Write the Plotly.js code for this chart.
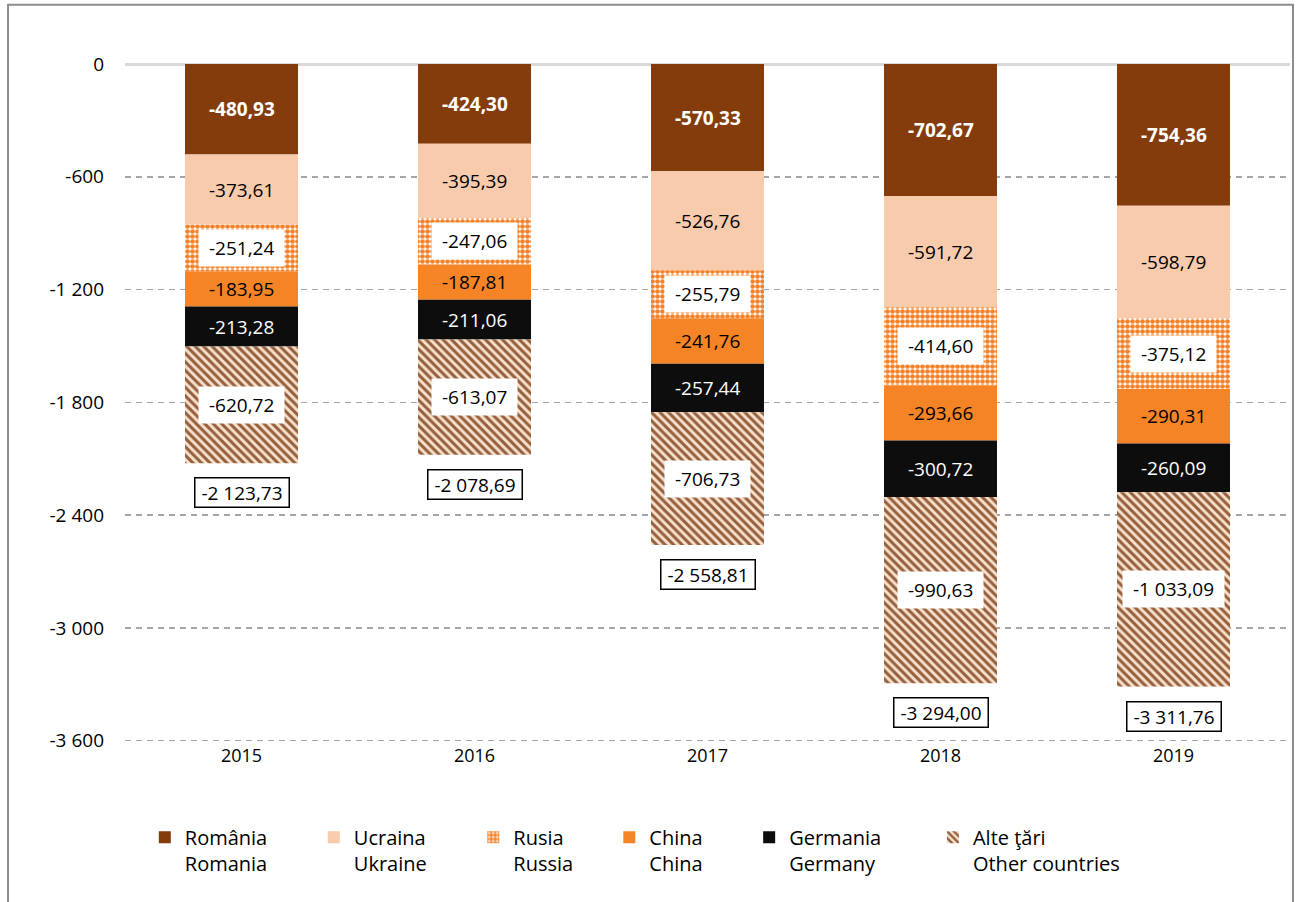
<!DOCTYPE html>
<html>
<head>
<meta charset="utf-8">
<script src="https://cdn.plot.ly/plotly-3.0.1.min.js"></script>
<style>html,body{margin:0;padding:0;background:#fff;}#chart{width:1300px;height:902px;}</style>
</head>
<body>
<div id="chart"></div>
<script>
const years = ['2015', '2016', '2017', '2018', '2019'];
const romania = [-480.93, -424.30, -570.33, -702.67, -754.36];
const ucraina = [-373.61, -395.39, -526.76, -591.72, -598.79];
const rusia = [-251.24, -247.06, -255.79, -414.60, -375.12];
const china = [-183.95, -187.81, -241.76, -293.66, -290.31];
const germania = [-213.28, -211.06, -257.44, -300.72, -260.09];
const alte = [-620.72, -613.07, -706.73, -990.63, -1033.09];
const totals = [-2123.73, -2078.69, -2558.81, -3294.00, -3311.76];
const namesRo = ['România', 'Ucraina', 'Rusia', 'China', 'Germania', 'Alte ţări'];
const namesEn = ['Romania', 'Ukraine', 'Russia', 'China', 'Germany', 'Other countries'];
const tickVals = [0, -600, -1200, -1800, -2400, -3000, -3600];
const tickText = ['0', '-600', '-1 200', '-1 800', '-2 400', '-3 000', '-3 600'];

const FONT = 'Open Sans, Noto Sans, sans-serif';

function fmt(v) {
  const neg = v < 0;
  const s = Math.abs(v).toFixed(2);
  let [ip, dp] = s.split('.');
  ip = ip.replace(/\B(?=(\d{3})+(?!\d))/g, ' ');
  return (neg ? '-' : '') + ip + ',' + dp;
}

// legend spacing padding (number of no-break spaces after each entry)
const legendPad = [8, 8, 6, 8, 9, 0];
function legendName(i) {
  const pad = '&nbsp;'.repeat(legendPad[i]);
  return namesRo[i] + pad + '<br>' + namesEn[i] + pad;
}

const series = [romania, ucraina, rusia, china, germania, alte];
const styles = [
  {color: '#843C0C'},
  {color: '#F8CBAD'},
  {color: '#FFFFFF', pattern: {shape: '.', fgcolor: '#F4822A', bgcolor: '#FFFFFF', size: 5, solidity: 0.7}},
  {color: '#F58427'},
  {color: '#0D0D0D'},
  {color: '#F7E0CC', pattern: {shape: '\\', fgcolor: '#94603D', bgcolor: '#F7E0CC', size: 6, solidity: 0.5}}
];
const labelStyle = [
  {color: '#FFFFFF', bold: true, box: false},
  {color: '#000000', bold: false, box: false},
  {color: '#000000', bold: false, box: true},
  {color: '#000000', bold: false, box: false},
  {color: '#FFFFFF', bold: false, box: false},
  {color: '#000000', bold: false, box: true}
];

const traces = series.map((vals, i) => ({
  type: 'bar',
  x: years,
  y: vals,
  name: legendName(i),
  marker: Object.assign({line: {width: 0}}, styles[i]),
  hoverinfo: 'skip'
}));

const annotations = [];
years.forEach((yr, j) => {
  let cum = 0;
  series.forEach((vals, i) => {
    const v = vals[j];
    const mid = cum + v / 2;
    cum += v;
    const ls = labelStyle[i];
    const a = {
      x: j, y: mid, xref: 'x', yref: 'y',
      text: ls.bold ? '<b>' + fmt(v) + '</b>' : fmt(v),
      showarrow: false,
      font: {family: FONT, size: 19, color: ls.color}
    };
    if (ls.box) { a.bgcolor = '#FFFFFF'; a.borderpad = 5; a.text = '&nbsp;' + a.text + '&nbsp;'; }
    annotations.push(a);
  });
  annotations.push({
    x: j, y: totals[j], xref: 'x', yref: 'y',
    text: '&nbsp;' + fmt(totals[j]) + '&nbsp;',
    showarrow: false, yanchor: 'top', yshift: -14,
    bgcolor: '#FFFFFF', bordercolor: '#000000', borderwidth: 1.5, borderpad: 1,
    font: {family: FONT, size: 19, color: '#000000'}
  });
});

const layout = {
  width: 1300, height: 902,
  margin: {l: 125, r: 10, t: 64, b: 159},
  paper_bgcolor: '#FFFFFF', plot_bgcolor: '#FFFFFF',
  barmode: 'relative',
  bargap: 0.515,
  showlegend: true,
  font: {family: FONT, color: '#000000'},
  xaxis: {
    type: 'category',
    range: [-0.5, 4.5],
    showgrid: false, zeroline: false, showline: false,
    ticks: '', tickfont: {family: FONT, size: 18, color: '#000000'}
  },
  yaxis: {
    range: [-3612, 0],
    tickvals: tickVals, ticktext: tickText,
    showgrid: true, gridcolor: '#A6A6A6', gridwidth: 1.5, griddash: '6px,5px',
    zeroline: true, zerolinecolor: '#D9D9D9', zerolinewidth: 3,
    showline: false, ticks: '', ticklabelstandoff: 20,
    tickfont: {family: FONT, size: 19, color: '#000000'}
  },
  legend: {
    orientation: 'h', x: 0.017, xanchor: 'left', y: -0.11, yanchor: 'top',
    valign: 'top', traceorder: 'normal',
    font: {family: FONT, size: 20, color: '#000000'},
    bgcolor: 'rgba(0,0,0,0)'
  },
  annotations: annotations,
  shapes: [{
    type: 'rect', xref: 'paper', yref: 'paper',
    x0: -0.1004, x1: 1.0026, y0: -0.3, y1: 1.0871,
    line: {color: '#8C8C8C', width: 2}, fillcolor: 'rgba(0,0,0,0)', layer: 'below'
  }]
};

Plotly.newPlot('chart', traces, layout, {displayModeBar: false, staticPlot: true});
</script>
</body>
</html>
